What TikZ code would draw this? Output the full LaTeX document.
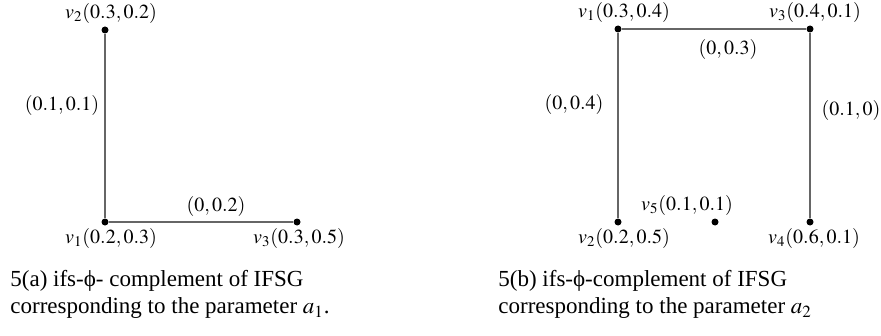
\documentclass[tikz,border=0pt]{standalone}
\usepackage{mathptmx}
\usepackage[no-math]{fontspec}
\setmainfont{Liberation Serif}
\usetikzlibrary{positioning}

\begin{document}
\begin{tikzpicture}[
    x=0.5pt,y=-0.5pt,
    node distance=1.3pt,
    dot/.style={circle,fill=black,inner sep=0pt,minimum size=3.5pt},
    lbl/.style={inner sep=0pt,font=\fontsize{10}{12}\selectfont},
    captxt/.style={inner sep=0pt,align=left,anchor=north west,
                font=\fontsize{11.5}{13.5}\selectfont},
    link/.style={draw=black!60,line width=0.7pt}
  ]
    \useasboundingbox (0,0) rectangle (881,336);

    % 5(a)
    \node[dot] (a2) at (105,30)  {};
    \node[dot] (a1) at (105,222) {};
    \node[dot] (a3) at (297,222) {};

    \node[lbl,above=of a2,xshift=3pt] (la2) {$v_2(0.3,0.2)$};
    \node[lbl,below=of a1,xshift=3pt] (la1) {$v_1(0.2,0.3)$};
    \node[lbl,below=of a3,xshift=1pt] (la3) {$v_3(0.3,0.5)$};

    \draw[link] (a2) -- (a1);
    \draw[link] (a1) -- (a3);
    \node[lbl] (ea12) at (62,106)  {$(0.1,0.1)$};
    \node[lbl] (ea13) at (216,206) {$(0,0.2)$};

    \node[captxt] (capa) at (10,270)
      {5(a) ifs-ϕ- complement of IFSG\\corresponding to the parameter $a_1$.};

    % 5(b)
    \node[dot] (b1) at (618,29)  {};
    \node[dot] (b3) at (810,29)  {};
    \node[dot] (b2) at (618,222) {};
    \node[dot] (b4) at (810,222) {};
    \node[dot] (b5) at (715,222) {};

    \node[lbl,above=of b1,xshift=3pt] (lb1) {$v_1(0.3,0.4)$};
    \node[lbl,above=of b3,xshift=2.5pt] (lb3) {$v_3(0.4,0.1)$};
    \node[lbl,below=of b2,xshift=3pt] (lb2) {$v_2(0.2,0.5)$};
    \node[lbl,below=of b4,xshift=2pt] (lb4) {$v_4(0.6,0.1)$};
    \node[lbl,above=of b5,xshift=-14pt] (lb5) {$v_5(0.1,0.1)$};

    \draw[link] (b1) -- (b3);
    \draw[link] (b1) -- (b2);
    \draw[link] (b3) -- (b4);
    \node[lbl] (eb13) at (728,50)  {$(0,0.3)$};
    \node[lbl] (eb12) at (574,105) {$(0,0.4)$};
    \node[lbl] (eb34) at (851,111) {$(0.1,0)$};

    \node[captxt] (capb) at (498,270)
      {5(b) ifs-ϕ-complement of IFSG\\corresponding to the parameter $a_2$};
  \end{tikzpicture}
\end{document}
